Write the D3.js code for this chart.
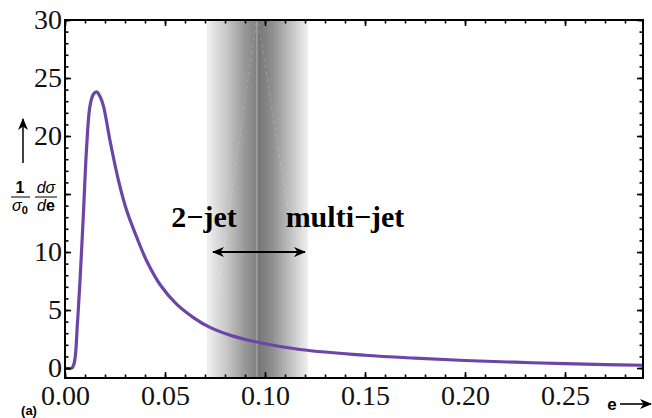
<!DOCTYPE html>
<html lang="en">
<head>
<meta charset="UTF-8">
<title>Event shape distribution</title>
<script src="https://cdn.jsdelivr.net/npm/d3@7"></script>
<style>
  body { margin: 0; background: #fff; }
  svg { display: block; }
</style>
</head>
<body>
<svg></svg>
<script>
// curve
const eValues = [0, 0.0035, 0.0048, 0.0062, 0.0075, 0.0092, 0.0108, 0.0125, 0.0142, 0.0158, 0.0175,
  0.0192, 0.0225, 0.0267, 0.0308, 0.0358, 0.0408, 0.0475, 0.0558, 0.0642, 0.0725,
  0.084, 0.0975, 0.1175, 0.15, 0.175, 0.2, 0.225, 0.25, 0.27, 0.289];
const sigmaValues = [0, 0, 0.6, 3.8, 7.5, 13.3, 19.0, 22.6, 23.6, 23.8, 23.4,
  22.6, 19.6, 16.2, 13.6, 11.3, 9.25, 7.2, 5.5, 4.35, 3.5,
  2.75, 2.18, 1.6, 1.1, 0.85, 0.65, 0.5, 0.38, 0.3, 0.24];

const xTicks = [0, 0.05, 0.10, 0.15, 0.20, 0.25];
const xMinor = d3.range(0, 0.29, 0.01);
const yTicks = [0, 5, 10, 15, 20, 25, 30];
const yMinor = d3.range(0, 31, 1);
const yLabels = [0, 5, 10, 20, 25, 30]; // 15 hidden by axis label

// transition region: left edge, centre, right edge
const band = [0.071, 0.096, 0.1215];

const width = 652, height = 418;
const x = d3.scaleLinear().domain([0, 0.289]).range([65, 643]);
const y = d3.scaleLinear().domain([-0.86, 30]).range([378, 20]);

const svg = d3.select("svg").attr("width", width).attr("height", height);

// shaded band
const defs = svg.append("defs");
const gl = defs.append("linearGradient").attr("id", "bandL")
  .attr("gradientUnits", "userSpaceOnUse")
  .attr("x1", x(band[0])).attr("x2", x(band[1])).attr("y1", 0).attr("y2", 0);
[[0, 0.06], [0.35, 0.2], [0.75, 0.4], [1, 0.5]].forEach(s =>
  gl.append("stop").attr("offset", s[0]).attr("stop-color", "#000").attr("stop-opacity", s[1]));
const gr = defs.append("linearGradient").attr("id", "bandR")
  .attr("gradientUnits", "userSpaceOnUse")
  .attr("x1", x(band[1])).attr("x2", x(band[2])).attr("y1", 0).attr("y2", 0);
[[0, 0.55], [0.3, 0.44], [0.7, 0.22], [1, 0.06]].forEach(s =>
  gr.append("stop").attr("offset", s[0]).attr("stop-color", "#000").attr("stop-opacity", s[1]));

svg.append("rect")
  .attr("x", x(band[0])).attr("width", x(band[1]) - x(band[0]))
  .attr("y", y(30)).attr("height", y(-0.86) - y(30))
  .attr("fill", "url(#bandL)");
svg.append("rect")
  .attr("x", x(band[1])).attr("width", x(band[2]) - x(band[1]))
  .attr("y", y(30)).attr("height", y(-0.86) - y(30))
  .attr("fill", "url(#bandR)");
svg.append("line")
  .attr("x1", x(band[1])).attr("x2", x(band[1]))
  .attr("y1", y(30)).attr("y2", y(-0.86))
  .attr("stroke", "#aaa").attr("stroke-width", 1.2);

// faint dashed guide lines inside the band
svg.append("g").selectAll("line")
  .data([[0.0955, 29.7, 0.076, 6], [0.0968, 29.7, 0.112, 13]])
  .join("line")
  .attr("x1", d => x(d[0])).attr("y1", d => y(d[1]))
  .attr("x2", d => x(d[2])).attr("y2", d => y(d[3]))
  .attr("stroke", "#fff").attr("stroke-opacity", 0.22)
  .attr("stroke-width", 1).attr("stroke-dasharray", "3,4");

// curve
const line = d3.line()
  .x((d, i) => x(eValues[i]))
  .y(d => y(d))
  .curve(d3.curveCatmullRom.alpha(0.5));

svg.append("path")
  .datum(sigmaValues)
  .attr("d", line)
  .attr("fill", "none")
  .attr("stroke", "#6c45a6")
  .attr("stroke-width", 3.2)
  .attr("stroke-linejoin", "round");

// frame with inward ticks
const serif = "'Liberation Serif', 'DejaVu Serif', serif";
function styleAxis(g) {
  g.select(".domain").remove();
  g.selectAll("line").attr("stroke", "#000").attr("stroke-width", 1.6);
  g.selectAll("text").attr("font-family", serif).attr("font-size", 28).attr("fill", "#111");
}

svg.append("g").attr("transform", `translate(0,${y(-0.86)})`)
  .call(d3.axisBottom(x).tickValues(xMinor).tickSize(-3.5).tickFormat(""))
  .call(styleAxis);
svg.append("g").attr("transform", `translate(0,${y(-0.86)})`)
  .call(d3.axisBottom(x).tickValues(xTicks).tickSize(-6).tickPadding(7).tickFormat(d3.format(".2f")))
  .call(styleAxis);
svg.append("g").attr("transform", `translate(0,${y(30)})`)
  .call(d3.axisTop(x).tickValues(xMinor).tickSize(-3.5).tickFormat(""))
  .call(styleAxis);
svg.append("g").attr("transform", `translate(0,${y(30)})`)
  .call(d3.axisTop(x).tickValues(xTicks).tickSize(-6).tickFormat(""))
  .call(styleAxis);

svg.append("g").attr("transform", `translate(${x(0)},0)`)
  .call(d3.axisLeft(y).tickValues(yMinor).tickSize(-3.5).tickFormat(""))
  .call(styleAxis);
svg.append("g").attr("transform", `translate(${x(0)},0)`)
  .call(d3.axisLeft(y).tickValues(yTicks).tickSize(-6).tickPadding(3)
    .tickFormat(d => yLabels.includes(d) ? d : ""))
  .call(styleAxis);
svg.append("g").attr("transform", `translate(${x(0.289)},0)`)
  .call(d3.axisRight(y).tickValues(yMinor).tickSize(-3.5).tickFormat(""))
  .call(styleAxis);
svg.append("g").attr("transform", `translate(${x(0.289)},0)`)
  .call(d3.axisRight(y).tickValues(yTicks).tickSize(-6).tickFormat(""))
  .call(styleAxis);

svg.append("rect")
  .attr("x", x(0)).attr("y", y(30))
  .attr("width", x(0.289) - x(0)).attr("height", y(-0.86) - y(30))
  .attr("fill", "none").attr("stroke", "#000").attr("stroke-width", 2);

// arrows
defs.append("marker").attr("id", "head")
  .attr("viewBox", "0 0 12 10").attr("refX", 11).attr("refY", 5)
  .attr("markerWidth", 12).attr("markerHeight", 10)
  .attr("markerUnits", "userSpaceOnUse").attr("orient", "auto-start-reverse")
  .append("path").attr("d", "M0,0 L12,5 L0,10 L3.5,5 Z").attr("fill", "#000");

svg.append("line")
  .attr("x1", x(0.074)).attr("x2", x(0.12))
  .attr("y1", 252).attr("y2", 252)
  .attr("stroke", "#000").attr("stroke-width", 2)
  .attr("marker-start", "url(#head)").attr("marker-end", "url(#head)");

svg.append("text").attr("x", 204).attr("y", 227).attr("text-anchor", "middle")
  .attr("font-family", serif).attr("font-weight", "bold").attr("font-size", 30)
  .text("2\u2212jet");
svg.append("text").attr("x", 345).attr("y", 227).attr("text-anchor", "middle")
  .attr("font-family", serif).attr("font-weight", "bold").attr("font-size", 30)
  .text("multi\u2212jet");

// y axis label
const sans = "'Liberation Sans', Arial, sans-serif";
svg.append("line").attr("x1", 23).attr("x2", 23).attr("y1", 163).attr("y2", 119)
  .attr("stroke", "#000").attr("stroke-width", 1.5).attr("marker-end", "url(#head)");

const lab = svg.append("g").attr("font-family", sans).attr("font-size", 16).attr("fill", "#000");
lab.append("text").attr("x", 20).attr("y", 193).attr("text-anchor", "middle")
  .attr("font-weight", "bold").text("1");
lab.append("line").attr("x1", 11).attr("x2", 30).attr("y1", 197).attr("y2", 197)
  .attr("stroke", "#000").attr("stroke-width", 1);
const s0 = lab.append("text").attr("x", 20).attr("y", 211).attr("text-anchor", "middle");
s0.append("tspan").attr("font-style", "italic").text("\u03c3");
s0.append("tspan").attr("font-weight", "bold").attr("font-size", 11).attr("dy", 3).text("0");
const dn = lab.append("text").attr("x", 46).attr("y", 193).attr("text-anchor", "middle")
  .attr("font-style", "italic");
dn.append("tspan").text("d\u03c3");
lab.append("line").attr("x1", 35).attr("x2", 57).attr("y1", 197).attr("y2", 197)
  .attr("stroke", "#000").attr("stroke-width", 1);
const dd = lab.append("text").attr("x", 46).attr("y", 211).attr("text-anchor", "middle");
dd.append("tspan").attr("font-style", "italic").text("d");
dd.append("tspan").attr("font-weight", "bold").text("e");

// x axis label
svg.append("text").attr("x", 612).attr("y", 410).attr("text-anchor", "middle")
  .attr("font-family", sans).attr("font-weight", "bold").attr("font-size", 17).text("e");
svg.append("line").attr("x1", 620).attr("x2", 651).attr("y1", 404).attr("y2", 404)
  .attr("stroke", "#000").attr("stroke-width", 1.6).attr("marker-end", "url(#head)");

svg.append("text").attr("x", 29).attr("y", 415).attr("text-anchor", "middle")
  .attr("font-family", sans).attr("font-weight", "bold").attr("font-size", 13).text("(a)");
</script>
</body>
</html>
